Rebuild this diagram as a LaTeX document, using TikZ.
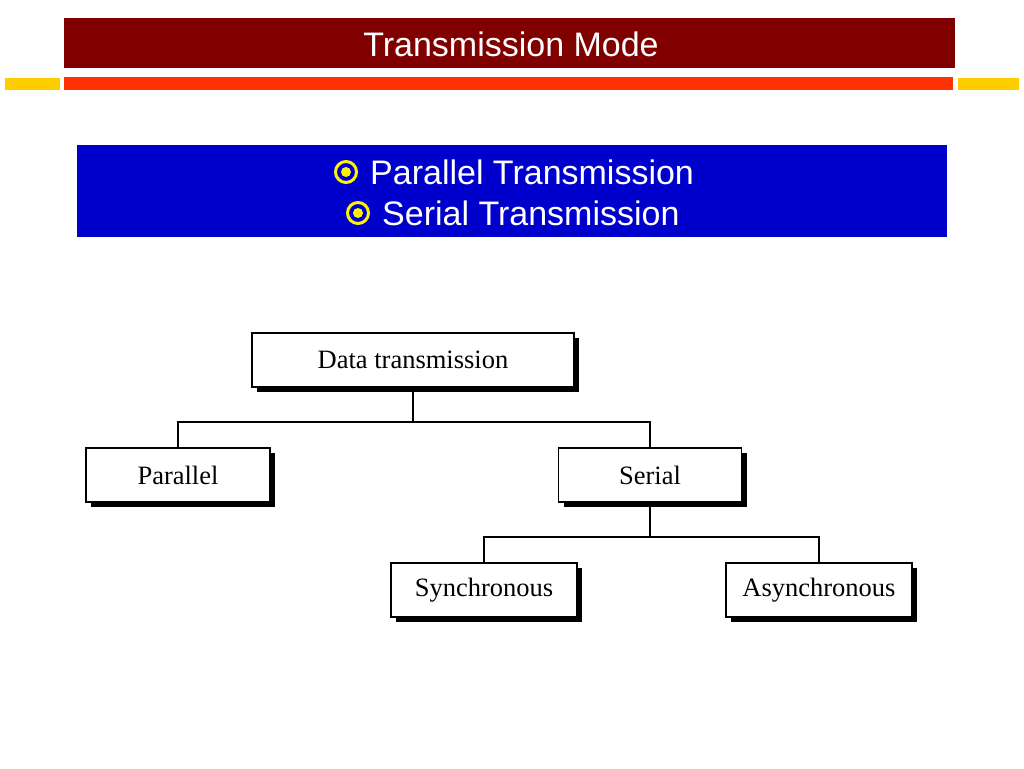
\documentclass[tikz,border=0pt]{standalone}
\usepackage{fontspec}
\setmainfont{Liberation Serif}
\newfontfamily\slidefont{Liberation Sans}
\usetikzlibrary{positioning,shadows}
\definecolor{titlered}{HTML}{800000}
\definecolor{barred}{HTML}{FF3300}
\definecolor{baryellow}{HTML}{FFCC00}
\definecolor{boxblue}{HTML}{0000CC}
\tikzset{
  treebox/.style={draw=black, line width=1.2pt, fill=white, inner sep=0pt,
    minimum height=54pt, font=\fontsize{26.5}{30}\selectfont,
    drop shadow={shadow xshift=5pt, shadow yshift=-5pt, fill=black, opacity=1}},
  branch/.style={line width=1.6pt},
  bulletring/.style={circle, draw=yellow, line width=3pt, fill=boxblue,
    minimum size=21pt, inner sep=0pt},
  bulletdot/.style={circle, fill=yellow, minimum size=10pt, inner sep=0pt},
  slidetext/.style={text=white, font=\slidefont\fontsize{34}{38}\selectfont, inner sep=0pt}
}
\begin{document}
\begin{tikzpicture}[x=1pt,y=-1pt]
				\useasboundingbox (0,0) rectangle (1024,768);
				\fill[white] (0,0) rectangle (1024,768);
				% title bar
				\fill[titlered] (64,18) rectangle (955,68);
				\node[slidetext] (title) at (511,44) {Transmission Mode};
				\fill[baryellow] (5,78) rectangle (60,90);
				\fill[barred] (64,77) rectangle (953,90);
				\fill[baryellow] (958,78) rectangle (1019,90);
				% blue box
				\fill[boxblue] (77,145) rectangle (947,237);
				\node[slidetext, anchor=west] (par) at (370,172) {Parallel Transmission};
				\node[slidetext, anchor=west] (ser) at (382,213) {Serial Transmission};
				\node[bulletring, left=12pt of par.west] (b1) {};
				\node[bulletdot] at (b1) {};
				\node[bulletring, left=12pt of ser.west] (b2) {};
				\node[bulletdot] at (b2) {};
				% tree
				\node[treebox, minimum width=322pt] (data) at (413,360) {Data transmission};
				\node[treebox, minimum width=184pt] (parallel) at (178,475) {Parallel};
				\node[treebox, minimum width=183pt] (serial) at (650,475) {Serial};
				\node[treebox, minimum width=186pt] (sync) at (484,590) {Synchronous};
				\node[treebox, minimum width=186pt] (async) at (819,590) {Asynchronous};
				\coordinate (j1) at (413,422);
				\coordinate (j2) at (650,537);
				\draw[branch] (data.south) -- (j1);
				\draw[branch] (parallel.north) |- (j1) -| (serial.north);
				\draw[branch] (serial.south) -- (j2);
				\draw[branch] (sync.north) |- (j2) -| (async.north);
				\end{tikzpicture}
\end{document}
